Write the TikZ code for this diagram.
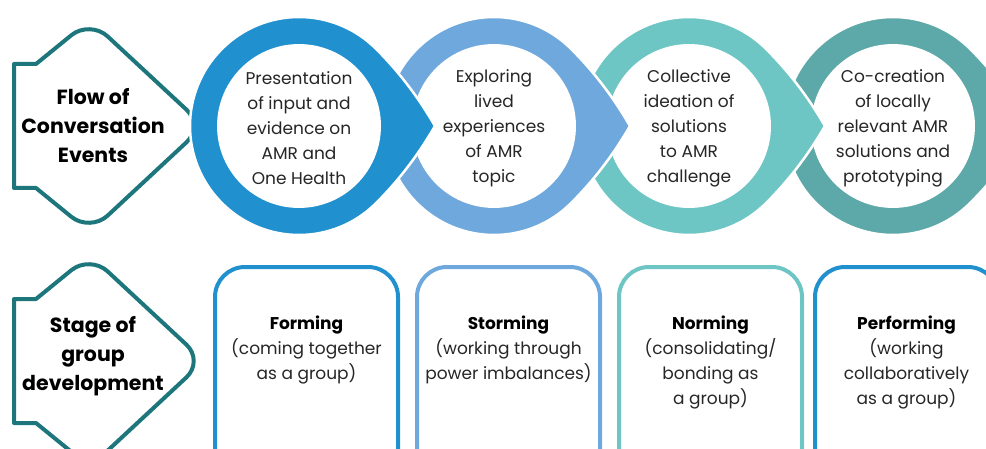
\documentclass[tikz,border=0pt]{standalone}
\usepackage{fontspec}
\setmainfont{Poppins}
\definecolor{ringA}{RGB}{32,144,207}
\definecolor{ringB}{RGB}{111,168,220}
\definecolor{ringC}{RGB}{110,198,196}
\definecolor{ringD}{RGB}{93,168,168}
\definecolor{frameteal}{RGB}{29,118,124}
\definecolor{txtgray}{RGB}{38,38,38}
\begin{document}
\begin{tikzpicture}[line join=round,x=1pt,y=1pt,
	lbl/.style={align=center,inner sep=0pt,text=txtgray,font=\fontsize{17}{25}\selectfont},
	head/.style={align=center,inner sep=0pt,font=\bfseries\fontsize{20.5}{29}\selectfont},
	frame/.style={draw=frameteal,line width=4}]
	\clip (0,0) rectangle (986,448);
	\useasboundingbox (0,0) rectangle (986,448);
	% left labels
	\draw[frame] (36,260) [rounded corners=24] -- (90,216) -- (204,322) -- (90,428) [sharp corners] -- (36,384) -- (14,384) -- (14,260) -- cycle;
	\draw[frame] (36,25) [rounded corners=24] -- (90,-19) -- (204,87) -- (90,193) [sharp corners] -- (36,149) -- (14,149) -- (14,25) -- cycle;
	\node[head] (flow) at (93,322) {Flow of\\Conversation\\Events};
	\node[head] (stage) at (93,92) {Stage of\\group\\development};
	% rings, right one first so each tip lies on the next ring
	\foreach \cx/\col in {893/ringD,689/ringC,494/ringB,299/ringA}{
		\begin{scope}[shift={(\cx,322)},scale=109]
			\filldraw[fill=\col,draw=white,line width=2.5] (0.7071,0.7071) .. controls (0.9150,0.4992) and (1.0953,0.2638) .. (1.2473,0) .. controls (1.0953,-0.2638) and (0.9150,-0.4992) .. (0.7071,-0.7071) arc[start angle=-45,end angle=-315,radius=1] -- cycle;
			\fill[white] (0,0) circle (0.752);
		\end{scope}
	}
	\node[lbl] (ev1) at (299,320) {Presentation\\of input and\\evidence on\\AMR and\\One Health};
	\node[lbl] (ev2) at (494,320) {Exploring\\lived\\experiences\\of AMR\\topic};
	\node[lbl] (ev3) at (689,320) {Collective\\ideation of\\solutions\\to AMR\\challenge};
	\node[lbl] (ev4) at (893,320) {Co-creation\\of locally\\relevant AMR\\solutions and\\prototyping};
	% stage boxes, open at the bottom
	\foreach \bx/\col in {215/ringA,417/ringB,619/ringC,815/ringA}{
		\draw[draw=\col,line width=4,rounded corners=30] (\bx,-40) -- (\bx,181) -- (\bx+183,181) -- (\bx+183,-40);
	}
	\node[lbl,anchor=north] (form) at (306.5,132) {\textbf{\color{black}Forming}\\(coming together\\as a group)};
	\node[lbl,anchor=north] (storm) at (508.5,132) {\textbf{\color{black}Storming}\\(working through\\power imbalances)};
	\node[lbl,anchor=north] (norm) at (710.5,132) {\textbf{\color{black}Norming}\\(consolidating/\\bonding as\\a group)};
	\node[lbl,anchor=north] (perf) at (906.5,132) {\textbf{\color{black}Performing}\\(working\\collaboratively\\as a group)};
\end{tikzpicture}
\end{document}
